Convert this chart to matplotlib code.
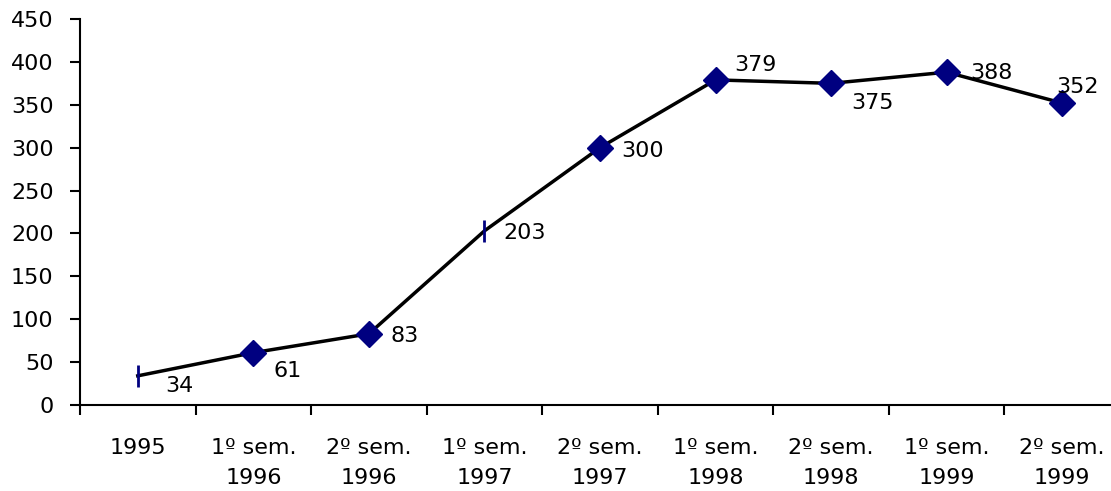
import matplotlib
matplotlib.use("Agg")
from matplotlib import pyplot as plt

# data
periods = ["1995", "1º sem.\n1996", "2º sem.\n1996", "1º sem.\n1997", "2º sem.\n1997",
           "1º sem.\n1998", "2º sem.\n1998", "1º sem.\n1999", "2º sem.\n1999"]
values = [34, 61, 83, 203, 300, 379, 375, 388, 352]
markers = ["|", "D", "D", "|", "D", "D", "D", "D", "D"]

# label offsets in pixels (dx, dy) relative to each point
label_offsets = [(27, -10), (20, -18), (22, -2), (19, -2), (21, -3),
                 (19, 15), (20, -20), (24, -1), (-6, 16)]

plt.rcParams["font.family"] = ["DejaVu Sans"]
plt.rcParams["font.size"] = 16

fig = plt.figure(figsize=(11.11, 4.91), dpi=100)
ax = fig.add_axes([80 / 1111, 86 / 491, 1040 / 1111, 386 / 491])

x = list(range(len(values)))
ax.plot(x, values, color="black", lw=2.5, zorder=2)
for xi, v, m in zip(x, values, markers):
    if m == "D":
        ax.plot(xi, v, marker="D", ms=13, color="#000080", zorder=3)
    else:
        ax.plot(xi, v, marker="|", ms=16, mew=2, color="#000080", zorder=3)

for xi, v, (dx, dy) in zip(x, values, label_offsets):
    ax.annotate(str(v), (xi, v), xytext=(dx * 0.72, dy * 0.72), textcoords="offset points",
                ha="left", va="center", fontsize=16)

ax.set_xlim(-0.5, len(values) - 0.5)
ax.set_ylim(0, 450)
ax.set_yticks(range(0, 451, 50))

# ticks at category boundaries, labels at centres
ax.set_xticks([i - 0.5 for i in range(len(values) + 1)])
ax.set_xticklabels([])
ax.set_xticks(x, minor=True)
ax.set_xticklabels(periods, minor=True, linespacing=1.6)
ax.tick_params(axis="x", which="major", direction="out", length=7, width=1.5)
ax.tick_params(axis="x", which="minor", length=0, pad=24)
ax.tick_params(axis="y", direction="out", length=7, width=1.5, pad=12)

for side in ["top", "right"]:
    ax.spines[side].set_visible(False)
for side in ["left", "bottom"]:
    ax.spines[side].set_linewidth(1.5)

fig.savefig("out.png", dpi=100)
